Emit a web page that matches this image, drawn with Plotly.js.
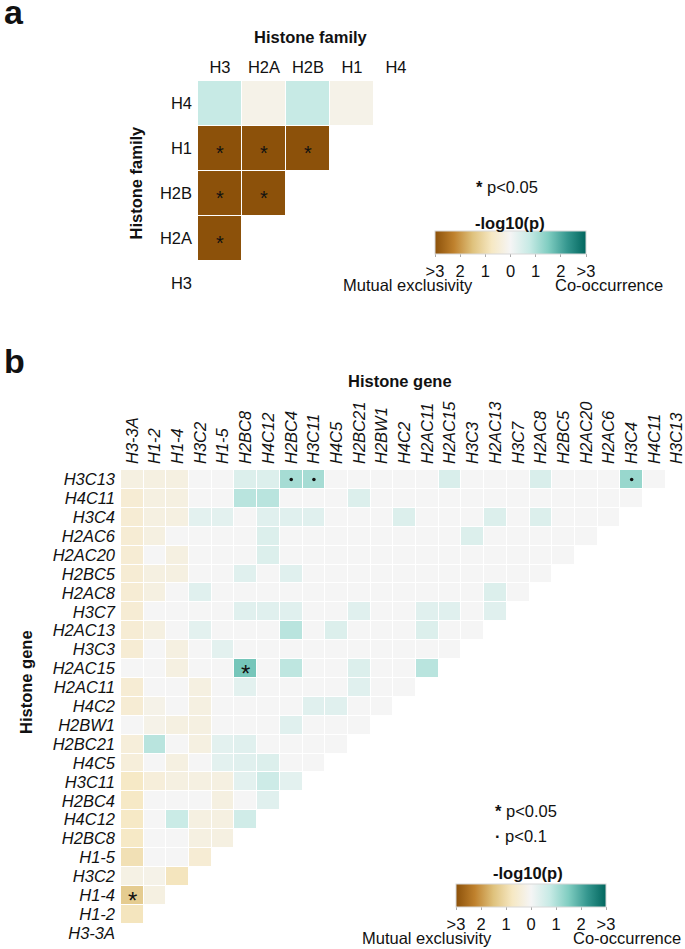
<!DOCTYPE html>
<html><head><meta charset="utf-8">
<script src="https://cdn.plot.ly/plotly-3.0.1.min.js"></script>
<style>html,body{margin:0;padding:0;background:#fff}#chart{width:685px;height:949px}</style>
</head><body><div id="chart"></div>
<script>
// ---------- data ----------
// signed -log10(p): negative = mutual exclusivity, positive = co-occurrence
const familyLabels = ['H3','H2A','H2B','H1','H4'];
const famH3  = [];
const famH2A = [-3];
const famH2B = [-3, -3];
const famH1  = [-3, -3, -3];
const famH4  = [0.75, -0.2, 0.75, -0.2];
const famStarRows = ['H2A','H2B','H2B','H1','H1','H1'];
const famStarCols = ['H3','H3','H2A','H3','H2A','H2B'];

const geneLabels = ['H3-3A','H1-2','H1-4','H3C2','H1-5','H2BC8','H4C12','H2BC4','H3C11','H4C5',
  'H2BC21','H2BW1','H4C2','H2AC11','H2AC15','H3C3','H2AC13','H3C7','H2AC8','H2BC5',
  'H2AC20','H2AC6','H3C4','H4C11','H3C13'];
const geneValues = [
  [],
  [-0.8],
  [-1.3,-0.3],
  [-0.25,-0.2,-0.8],
  [-0.9,0,0,-0.5],
  [-0.7,0,0,-0.3,-0.3],
  [-0.7,0,0.7,-0.3,-0.3,0.6],
  [-0.7,0,0,0,-0.3,0,0.35],
  [-0.7,-0.4,-0.3,-0.3,-0.3,0.3,0.65,0.3],
  [-0.4,0,-0.3,0,0.3,0.35,0.4,0,0],
  [-0.4,0.9,0,-0.3,0.3,0.35,0,0,0,0],
  [0,-0.2,-0.3,-0.3,0,0,0,0.35,0,0,0],
  [-0.5,-0.2,0,-0.3,0,0,0,0,0.35,0.35,0,0],
  [-0.5,0,0,-0.3,0,0.3,0,0,0,0,0.35,0,0],
  [0,0,-0.3,0,0,1.6,0,0.85,0,0,0.4,0,0,0.9],
  [-0.5,0,-0.3,0,0.3,0,0,0,0,0,0,0,0,0,0],
  [-0.5,-0.3,0,0.3,0,0,0,0.9,0,0.4,0,0,0,0.4,0,0],
  [-0.5,0,0,0,0,0.35,0.35,0.35,0,0,0.35,0,0,0.35,0.35,0,0.35],
  [-0.5,-0.3,0,0.35,0,0,0,0,0,0,0,0,0,0,0,0,0.4,0],
  [-0.5,-0.3,-0.3,0,0,0.35,0,0.35,0,0,0,0,0,0,0,0,0,0,0],
  [-0.5,0,-0.3,0,0,0,0.4,0,0,0,0,0,0,0,0,0,0,0,0,0],
  [-0.5,-0.3,0,0,0,0,0.4,0,0,0,0,0,0,0,0,0.4,0,0,0,0,0],
  [-0.5,-0.3,-0.3,0.3,0.3,0,0.35,0.35,0.35,0,0,0,0.4,0,0,0,0.4,0,0.4,0,0,0],
  [-0.5,-0.3,-0.3,0,0,0.9,0.9,0,0,0,0.4,0,0,0,0,0,0,0,0,0,0,0,0],
  [-0.3,-0.3,-0.3,0,0,0.4,0.4,1.1,1.1,0,0,0,0,0,0.45,0,0,0,0.45,0,0,0,1.25,0]
];
const geneStarRows = ['H1-4','H2AC15'];
const geneStarCols = ['H3-3A','H2BC8'];
const geneDotRows = ['H3C13','H3C13','H3C13'];
const geneDotCols = ['H2BC4','H3C11','H3C4'];

const cbTickVals = [-3,-2,-1,0,1,2,3];
const cbTickText = ['>3','2','1','0','1','2','>3'];

// ---------- helpers ----------
const W = 685, H = 949;
const fx = v => v / W;
const fy = v => 1 - v / H;
const FONT = 'Liberation Sans, Arial, sans-serif';
const TXT = '#111111';
const brbg = [[0,'#8c510a'],[0.125,'#bf812d'],[0.25,'#dfc27d'],[0.375,'#f6e8c3'],[0.5,'#f5f5f5'],
              [0.625,'#c7eae5'],[0.75,'#80cdc1'],[0.875,'#35978f'],[1,'#01665e']];
const tri = (rows, n) => rows.map(r => Array.from({length: n}, (_, c) => c < r.length ? r[c] : null));

const famZ = tri([famH3, famH2A, famH2B, famH1, famH4], familyLabels.length);
const geneZ = tri(geneValues, geneLabels.length);

function cbar(cx, top, len) {
  return {
    orientation: 'h', xref: 'container', yref: 'container',
    x: fx(cx), xanchor: 'center', y: fy(top), yanchor: 'top',
    len: len, lenmode: 'pixels', thickness: 23, thicknessmode: 'pixels',
    xpad: 0, ypad: 0, outlinewidth: 1, outlinecolor: '#d8d8d8',
    tickmode: 'array', tickvals: cbTickVals, ticktext: cbTickText,
    ticks: 'outside', ticklen: 3, tickcolor: '#aaaaaa',
    tickfont: {family: FONT, size: 16.5, color: TXT}
  };
}

const traces = [
  {type: 'heatmap', x: familyLabels, y: familyLabels, z: famZ, zmin: -3, zmax: 3,
   colorscale: brbg, xgap: 1, ygap: 1, xaxis: 'x', yaxis: 'y', hoverinfo: 'skip',
   colorbar: cbar(510.5, 231, 151)},
  {type: 'heatmap', x: geneLabels, y: geneLabels, z: geneZ, zmin: -3, zmax: 3,
   colorscale: brbg, xgap: 1, ygap: 1, xaxis: 'x2', yaxis: 'y2', hoverinfo: 'skip',
   colorbar: cbar(531, 884, 150)},
  {type: 'scatter', mode: 'markers', x: geneDotCols, y: geneDotRows, xaxis: 'x2', yaxis: 'y2',
   marker: {size: 3.5, color: TXT}, hoverinfo: 'skip', showlegend: false}
];

const baseAxis = {showgrid: false, zeroline: false, showline: false, ticks: '', type: 'category',
                  fixedrange: true, automargin: false, tickmode: 'linear', tick0: 0, dtick: 1};

const annotations = [];
function addText(text, x, y, size, opts) {
  annotations.push(Object.assign({text: text, x: fx(x), y: fy(y), xref: 'paper', yref: 'paper',
    showarrow: false, xanchor: 'center', yanchor: 'middle',
    font: {family: FONT, size: size, color: TXT}}, opts || {}));
}
// panel letters
addText('<b>a</b>', 2, 12, 34, {xanchor: 'left'});
addText('<b>b</b>', 2, 361, 34, {xanchor: 'left'});
// axis titles
addText('<b>Histone family</b>', 311, 37.5, 16.5);
addText('<b>Histone family</b>', 135.5, 183, 16.5, {textangle: -90});
addText('<b>Histone gene</b>', 400, 380.5, 16.5);
addText('<b>Histone gene</b>', 26, 682, 16.5, {textangle: -90});
// legend a
addText('<b>*</b> p<0.05', 474, 187, 16.5, {xanchor: 'left'});
addText('<b>-log10(p)</b>', 510, 222.5, 16.5);
addText('Mutual exclusivity', 408, 285, 16.5);
addText('Co-occurrence', 609, 285, 16.5);
// legend b
addText('<b>*</b> p<0.05', 493, 811, 16.5, {xanchor: 'left'});
addText('<b>·</b> p<0.1', 493, 835.5, 16.5, {xanchor: 'left'});
addText('<b>-log10(p)</b>', 528, 872.5, 16.5);
addText('Mutual exclusivity', 427, 938, 16.5);
addText('Co-occurrence', 627, 938, 16.5);

// significance stars, positioned by the axes
famStarCols.forEach((c, i) => annotations.push({text: '*', x: c, y: famStarRows[i], xref: 'x', yref: 'y',
  showarrow: false, yshift: -4.5, font: {family: FONT, size: 20, color: TXT}}));
geneStarCols.forEach((c, i) => annotations.push({text: '*', x: c, y: geneStarRows[i], xref: 'x2', yref: 'y2',
  showarrow: false, yshift: -5.5, font: {family: FONT, size: 24, color: TXT}}));

const layout = {
  width: W, height: H, margin: {l: 0, r: 0, t: 0, b: 0, pad: 0, autoexpand: false},
  paper_bgcolor: '#ffffff', plot_bgcolor: 'rgba(0,0,0,0)', showlegend: false,
  font: {family: FONT, size: 16.5, color: TXT},
  xaxis: Object.assign({}, baseAxis, {domain: [fx(198), fx(418)], range: [-0.5, 4.5], side: 'top',
    anchor: 'y', categoryorder: 'array', categoryarray: familyLabels, ticklabelstandoff: 4,
    tickfont: {family: FONT, size: 16.5, color: TXT}}),
  yaxis: Object.assign({}, baseAxis, {domain: [fy(306), fy(81)], range: [-0.5, 4.5],
    anchor: 'x', categoryorder: 'array', categoryarray: familyLabels, ticklabelstandoff: 5,
    tickfont: {family: FONT, size: 16.5, color: TXT}}),
  xaxis2: Object.assign({}, baseAxis, {domain: [fx(121), 1], range: [-0.5, 24.35], side: 'top',
    anchor: 'y2', tickangle: -90, categoryorder: 'array', categoryarray: geneLabels, ticklabelstandoff: 5,
    tickfont: {family: FONT, size: 16.5, color: TXT, style: 'italic'}}),
  yaxis2: Object.assign({}, baseAxis, {domain: [fy(942.5), fy(470)], range: [-0.5, 24.5],
    anchor: 'x2', categoryorder: 'array', categoryarray: geneLabels, ticklabelstandoff: 5,
    tickfont: {family: FONT, size: 16.5, color: TXT, style: 'italic'}}),
  annotations: annotations
};

Plotly.newPlot('chart', traces, layout, {displayModeBar: false, staticPlot: true});
</script></body></html>
